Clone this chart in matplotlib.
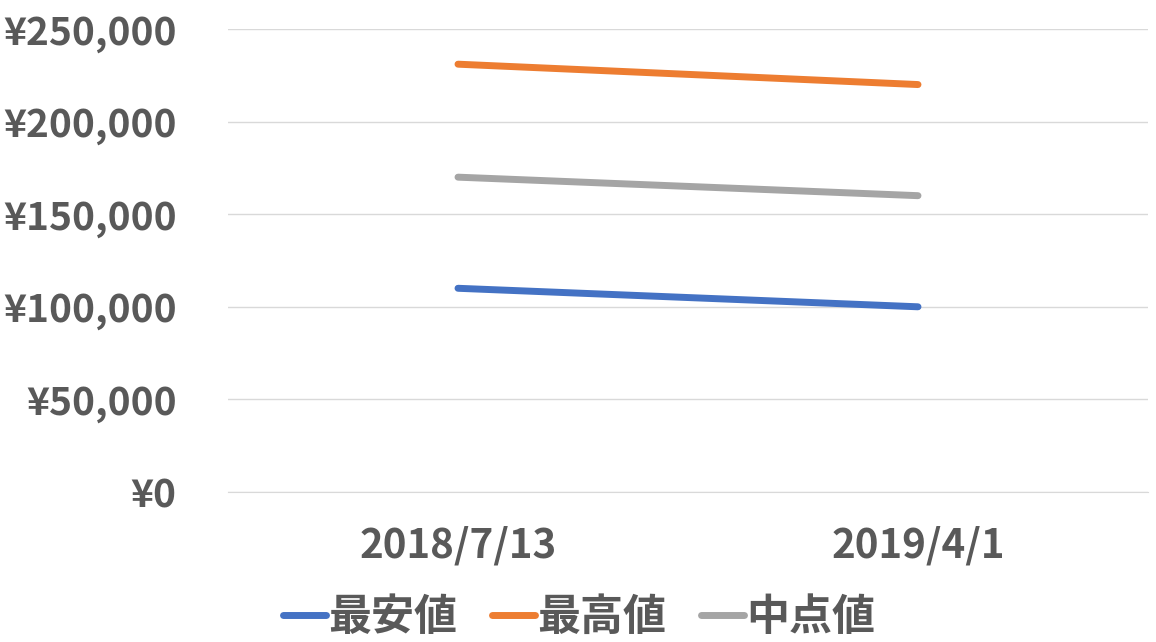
import matplotlib.pyplot as plt
from matplotlib.ticker import FuncFormatter

plt.rcParams['font.family'] = ['Noto Sans CJK JP', 'DejaVu Sans']

dates = ['2018/7/13', '2019/4/1']
low = [110000, 100000]
high = [231000, 220000]
mid = [170000, 160000]

series = [('最安値', low, '#4472C4'), ('最高値', high, '#ED7D31'), ('中点値', mid, '#A5A5A5')]

fig = plt.figure(figsize=(11.56, 6.42), dpi=100)
ax = fig.add_axes([228 / 1156, 1 - 492 / 642, 920 / 1156, 463 / 642])

x = range(len(dates))
for name, vals, col in series:
    ax.plot(x, vals, color=col, lw=5, label=name, solid_capstyle='round')

ax.set_xlim(-0.5, 1.5)
ax.set_ylim(0, 250000)
ax.set_yticks(range(0, 250001, 50000))
ax.yaxis.set_major_formatter(FuncFormatter(lambda v, p: f'¥{int(v):,}'))
ax.set_xticks(list(x))
ax.set_xticklabels(dates)
ax.grid(axis='y', color='#D9D9D9', lw=1)
ax.set_axisbelow(True)
for s in ax.spines.values():
    s.set_visible(False)
ax.spines['bottom'].set_visible(True)
ax.spines['bottom'].set_color('#D9D9D9')
ax.tick_params(length=0, colors='#595959')
ax.tick_params(axis='y', labelsize=28, pad=37)
ax.tick_params(axis='x', labelsize=29, pad=24)
for t in ax.get_xticklabels() + ax.get_yticklabels():
    t.set_fontweight('bold')

leg = fig.legend(loc='lower center', bbox_to_anchor=(0.501, -0.056), ncol=3, frameon=False,
                 prop={'size': 31, 'weight': 'bold'}, handlelength=1.0, handletextpad=0.05,
                 columnspacing=0.8)
for line in leg.get_lines():
    line.set_linewidth(5)
for t in leg.get_texts():
    t.set_color('#595959')

fig.savefig('out.png', dpi=100)
